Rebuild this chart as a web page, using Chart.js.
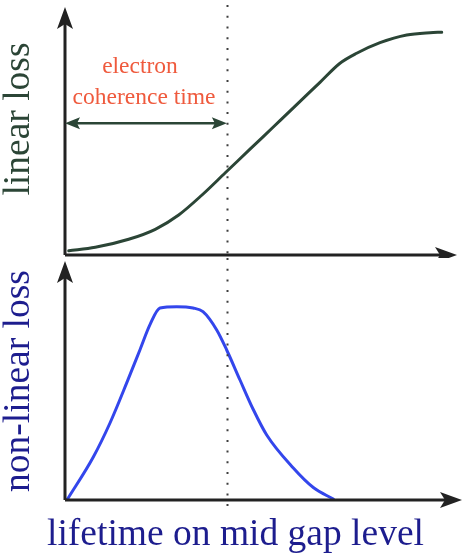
<!DOCTYPE html>
<html>
<head>
<meta charset="utf-8">
<script src="https://cdn.jsdelivr.net/npm/chart.js@4.4.1/dist/chart.umd.min.js"></script>
<style>
  html, body { margin: 0; padding: 0; background: #ffffff; overflow: hidden; }
  #wrap { position: relative; width: 463px; height: 555px; overflow: hidden; }
  #topBox { position: absolute; left: 0; top: -27px; width: 463px; height: 285px; }
  #botBox { position: absolute; left: 0; top: 258px; width: 463px; height: 297px; }
</style>
</head>
<body>
<div id="wrap">
  <div id="topBox"><canvas id="topChart"></canvas></div>
  <div id="botBox"><canvas id="botChart"></canvas></div>
</div>
<script>
// ---- data ----
const linearX = [0.95, 7.77, 16.33, 23.15, 29.15, 35.13, 41.1, 47.44, 53.41, 59.41, 65.38, 70.51, 74.79, 80.77, 87.62, 93.59, 96.59];
const linearY = [1.76, 3.14, 6.41, 10.49, 16.33, 24.49, 33.55, 43.18, 52.24, 61.35, 70.45, 78.24, 82.33, 86.65, 89.8, 90.73, 90.9];
const nonLinearX = [0.51, 7.26, 11.54, 15.9, 19.23, 21.79, 24.36, 28.64, 32.82, 35.38, 38.9, 41.46, 44.87, 48.21, 51.72, 58.54, 63.67, 68.79];
const nonLinearY = [0, 18.07, 32.35, 49.5, 63.15, 73.66, 80.67, 81.22, 80.67, 79.12, 71.43, 63.03, 50.42, 38.24, 27.31, 13.45, 5.25, 0.42];
const coherenceTime = 41.5;          // x position of the dotted marker
const annotationLines = ["electron", "coherence time"];
const yLabelTop = "linear loss";
const yLabelBottom = "non-linear loss";
const xLabel = "lifetime on mid gap level";

const SERIF = "'Liberation Serif', 'DejaVu Serif', serif";
const AXIS_COLOR = "#222222";
const GREEN = "#2b4536";
const BLUE = "#3346ec";
const NAVY = "#1d1d8e";
const RED = "#ef5a3d";

function toPoints(xs, ys) { return xs.map((x, i) => ({ x: x, y: ys[i] })); }

function stealthHead(ctx, tipX, tipY, angle, len, half, notch) {
  ctx.save();
  ctx.translate(tipX, tipY);
  ctx.rotate(angle);
  ctx.beginPath();
  ctx.moveTo(0, 0);
  ctx.lineTo(-len, -half);
  ctx.lineTo(-len + notch, 0);
  ctx.lineTo(-len, half);
  ctx.closePath();
  ctx.fill();
  ctx.restore();
}

function decorPlugin(cfg) {
  return {
    id: 'decor',
    afterDatasetsDraw(chart) {
      const ctx = chart.ctx;
      const xs = chart.scales.x, ys = chart.scales.y;
      const x0 = xs.getPixelForValue(0);
      const y0 = ys.getPixelForValue(0);
      ctx.save();
      // dotted marker
      const dx = Math.round(xs.getPixelForValue(coherenceTime)) + 0.5;
      ctx.strokeStyle = '#3e3e3e';
      ctx.lineWidth = 2;
      ctx.setLineDash([2, 8.7]);
      ctx.beginPath();
      ctx.moveTo(dx, cfg.dotTop);
      ctx.lineTo(dx, cfg.dotBottom);
      ctx.stroke();
      ctx.setLineDash([]);
      // axes
      ctx.strokeStyle = AXIS_COLOR;
      ctx.fillStyle = AXIS_COLOR;
      ctx.lineWidth = 3;
      ctx.beginPath();
      ctx.moveTo(x0, y0);
      ctx.lineTo(x0, cfg.yTip + 10);
      ctx.moveTo(x0, y0);
      ctx.lineTo(cfg.xTip - 10, y0);
      ctx.stroke();
      stealthHead(ctx, x0, cfg.yTip, -Math.PI / 2, 22, 8, 5);
      stealthHead(ctx, cfg.xTip, y0, 0, 22, 8, 5);
      // annotation (top chart only)
      if (cfg.annotate) {
        const ay = ys.getPixelForValue(53.8);
        const ax1 = xs.getPixelForValue(coherenceTime);
        ctx.strokeStyle = GREEN;
        ctx.fillStyle = GREEN;
        ctx.lineWidth = 2.5;
        ctx.beginPath();
        ctx.moveTo(x0 + 8, ay);
        ctx.lineTo(ax1 - 8, ay);
        ctx.stroke();
        stealthHead(ctx, ax1, ay, 0, 15, 6, 3);
        stealthHead(ctx, x0, ay, Math.PI, 15, 6, 3);
        ctx.fillStyle = RED;
        ctx.font = "23.5px " + SERIF;
        ctx.textAlign = 'center';
        ctx.textBaseline = 'alphabetic';
        ctx.fillText(annotationLines[0], xs.getPixelForValue(19.23), ys.getPixelForValue(74.1));
        ctx.fillText(annotationLines[1], xs.getPixelForValue(20.26), ys.getPixelForValue(61.8));
      }
      ctx.restore();
    }
  };
}

function lineDataset(points, color) {
  return {
    data: points,
    borderColor: color,
    borderWidth: 3,
    pointRadius: 0,
    fill: false,
    showLine: true,
    cubicInterpolationMode: 'monotone',
    borderCapStyle: 'round',
    borderJoinStyle: 'round'
  };
}

function yTitle(text, color, lineHeight, padBottom) {
  return {
    display: true,
    text: text,
    color: color,
    font: { family: SERIF, size: 37.5, lineHeight: lineHeight },
    padding: { top: 0, bottom: padBottom }
  };
}

// ---- top chart: linear loss ----
new Chart(document.getElementById('topChart'), {
  type: 'line',
  data: { datasets: [lineDataset(toPoints(linearX, linearY), GREEN)] },
  options: {
    responsive: true,
    maintainAspectRatio: false,
    animation: false,
    layout: { padding: { top: 10, right: 8, bottom: 3, left: 0 } },
    plugins: { legend: { display: false }, tooltip: { enabled: false } },
    scales: {
      x: { type: 'linear', min: 0, max: 100, display: false },
      y: {
        type: 'linear', min: 0, max: 111,
        ticks: { display: false },
        grid: { display: false, drawTicks: false },
        border: { display: false },
        title: yTitle(yLabelTop, GREEN, 1.0, 27.5)
      }
    }
  },
  plugins: [decorPlugin({ dotTop: 0, dotBottom: 285, yTip: 34, xTip: 457, annotate: true })]
});

// ---- bottom chart: non-linear loss ----
new Chart(document.getElementById('botChart'), {
  type: 'line',
  data: { datasets: [lineDataset(toPoints(nonLinearX, nonLinearY), BLUE)] },
  options: {
    responsive: true,
    maintainAspectRatio: false,
    animation: false,
    layout: { padding: { top: 4, right: 0, bottom: 0, left: 8 } },
    plugins: {
      legend: { display: false },
      tooltip: { enabled: false },
      title: {
        display: true,
        position: 'bottom',
        text: xLabel,
        color: NAVY,
        font: { family: SERIF, size: 37.5, lineHeight: 1.0, weight: 'normal' },
        padding: { top: 16, bottom: 1.5 }
      }
    },
    scales: {
      x: { type: 'linear', min: 0, max: 102.05, display: false },
      y: {
        type: 'linear', min: 0, max: 100,
        ticks: { display: false },
        grid: { display: false, drawTicks: false },
        border: { display: false },
        title: yTitle(yLabelBottom, NAVY, 0.6, 34.5)
      }
    }
  },
  plugins: [decorPlugin({ dotTop: 0, dotBottom: 252, yTip: 3, xTip: 462, annotate: false })]
});
</script>
</body>
</html>
